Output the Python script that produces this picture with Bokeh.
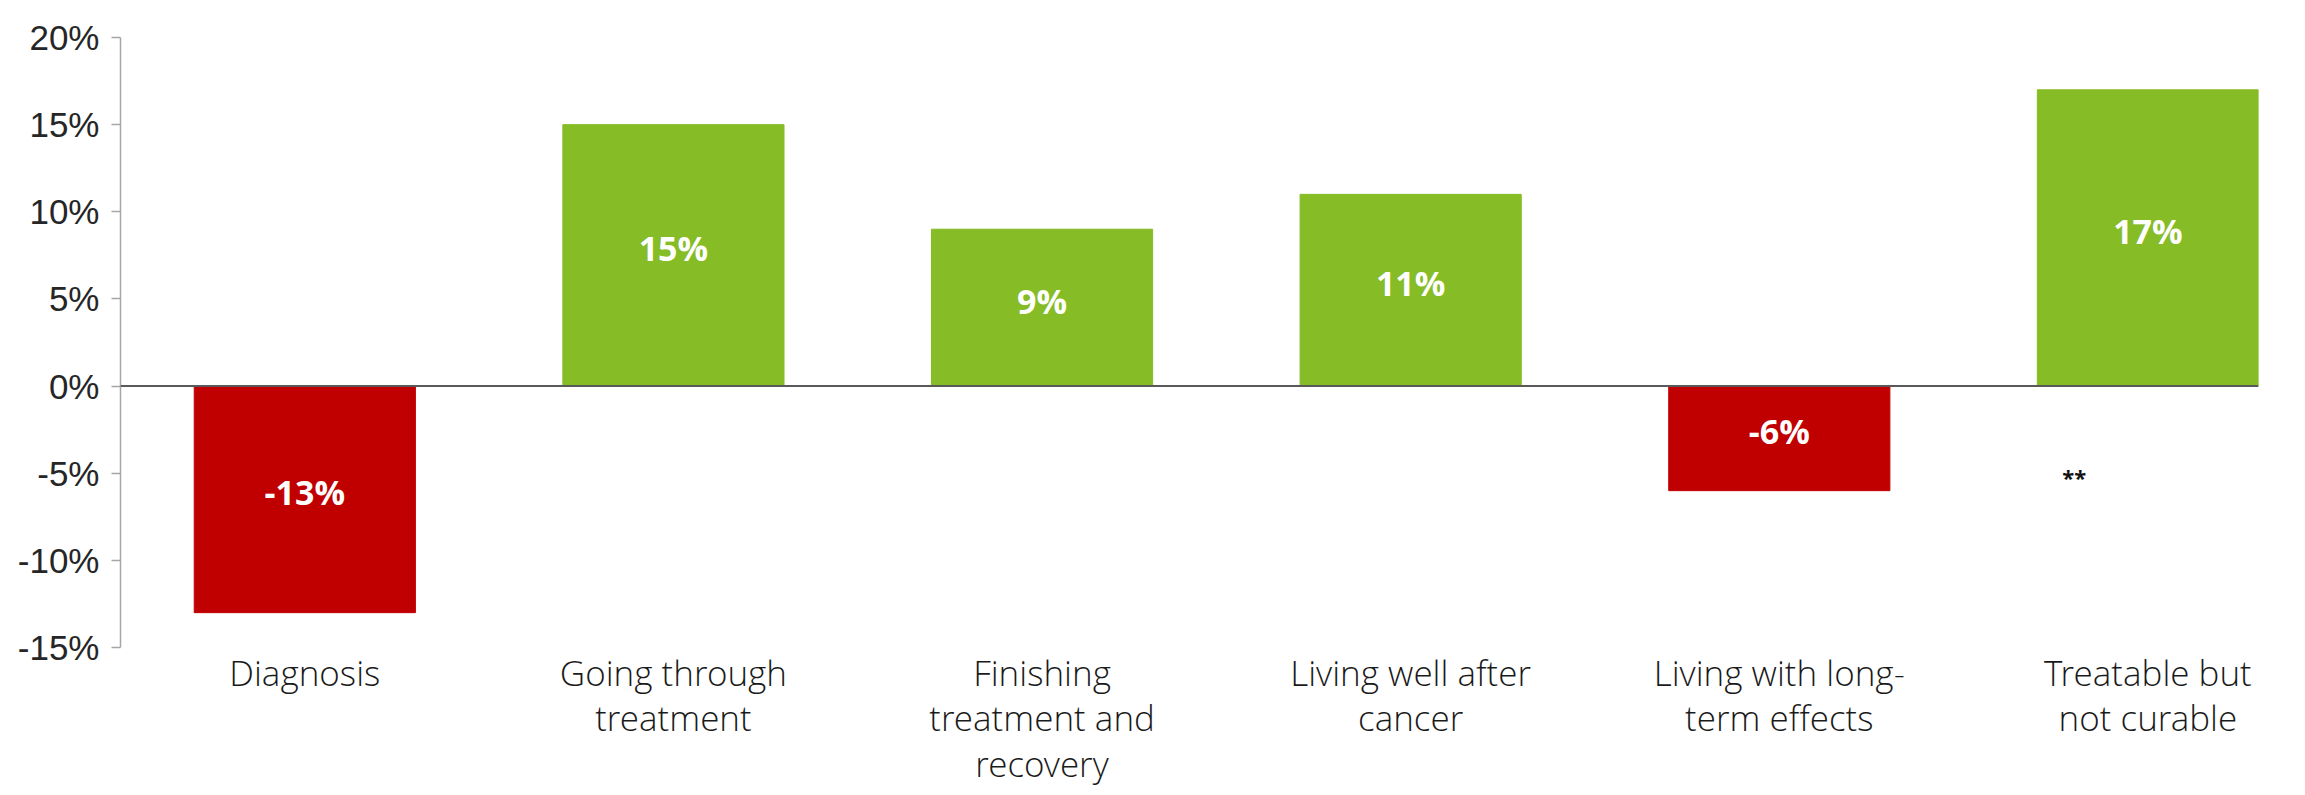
from bokeh.plotting import figure
from bokeh.models import ColumnDataSource, FixedTicker, NumeralTickFormatter, Span, Label
from bokeh.core.properties import value
from bokeh.embed import file_html
from bokeh.resources import INLINE

# ---- data ----
categories = [
    "Diagnosis",
    "Going through\ntreatment",
    "Finishing\ntreatment and\nrecovery",
    "Living well after\ncancer",
    "Living with long-\nterm effects",
    "Treatable but\nnot curable",
]
values = [-0.13, 0.15, 0.09, 0.11, -0.06, 0.17]
y_ticks = [-0.15, -0.10, -0.05, 0.0, 0.05, 0.10, 0.15, 0.20]
note_text = "**"

x = list(range(len(categories)))
colors = ["#C00000" if v < 0 else "#86BC25" for v in values]
labels = [f"{round(v * 100):d}%" for v in values]
mids = [v / 2 for v in values]

src = ColumnDataSource(dict(x=x, v=values, color=colors, label=labels, mid=mids))

p = figure(
    width=2297, height=795,
    x_range=(-0.5, 5.3), y_range=(-0.15, 0.20),
    output_backend="svg", toolbar_location=None,
    min_border_left=120, min_border_right=39,
    min_border_top=37, min_border_bottom=148,
    outline_line_color=None, background_fill_color="white",
)

p.vbar(x="x", top="v", bottom=0, width=0.6, fill_color="color",
       line_color="color", source=src)

p.text(x="x", y="mid", text="label", source=src, text_color="white",
       text_font=value("Open Sans"), text_font_style="bold",
       text_font_size="34px", text_align="center", text_baseline="middle",
       y_offset=-7)

p.add_layout(Span(location=0, dimension="width", line_color="#595959", line_width=2))

# annotation
p.add_layout(Label(x=x[-1] - 0.2, y=-0.052, text=note_text, text_font="Open Sans",
                   text_font_style="bold", text_font_size="22px", text_color="#111111",
                   text_align="center", text_baseline="middle"))

p.xgrid.visible = False
p.ygrid.visible = False

xa = p.xaxis[0]
xa.ticker = FixedTicker(ticks=x)
xa.major_label_overrides = {i: c for i, c in zip(x, categories)}
xa.axis_line_color = None
xa.major_tick_line_color = None
xa.minor_tick_line_color = None
xa.major_tick_out = 0
xa.major_tick_in = 0
xa.major_label_standoff = 1
xa.major_label_text_font = "Open Sans Light"
xa.major_label_text_font_size = "35px"
xa.major_label_text_color = "#1a1a1a"
xa.major_label_text_line_height = 0.97

ya = p.yaxis[0]
ya.ticker = FixedTicker(ticks=y_ticks)
ya.formatter = NumeralTickFormatter(format="0%")
ya.axis_line_color = "#A6A6A6"
ya.axis_line_width = 1.5
ya.major_tick_line_color = "#A6A6A6"
ya.major_tick_line_width = 1.5
ya.major_tick_out = 9
ya.major_tick_in = 0
ya.minor_tick_line_color = None
ya.major_label_standoff = 12
ya.major_label_text_font = "Liberation Sans"
ya.major_label_text_font_size = "35px"
ya.major_label_text_color = "#262626"

open("out.html", "w").write(file_html(p, INLINE))
